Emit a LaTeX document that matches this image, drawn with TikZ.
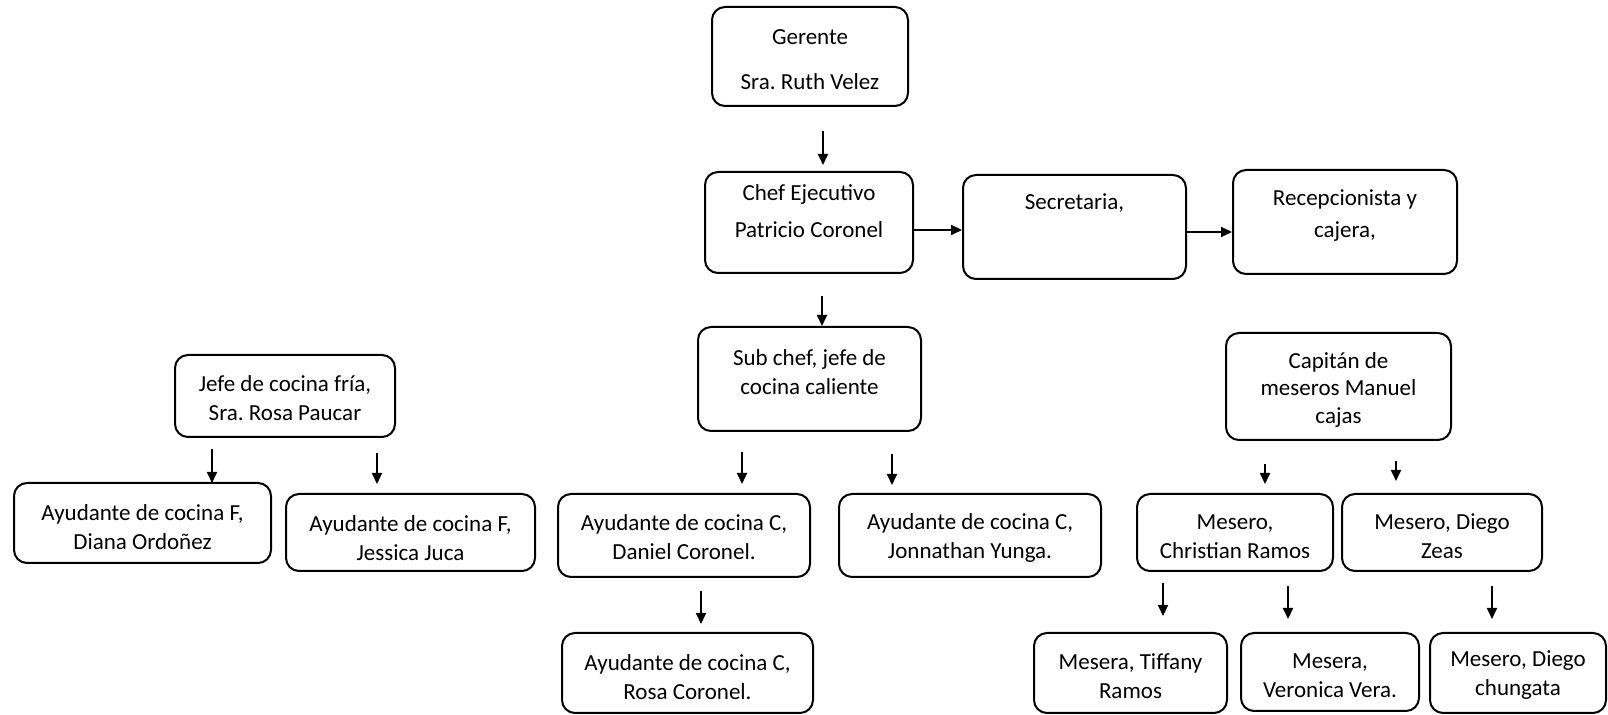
\documentclass[tikz,border=0pt]{standalone}
\usepackage{fontspec}
\setmainfont{Carlito}
\usetikzlibrary{arrows.meta}
\frenchspacing
\begin{document}
\begin{tikzpicture}[x=0.5pt,y=-0.5pt,
  box/.style={draw=black, line width=1pt, rounded corners=6.5pt, inner sep=0pt},
  txt/.style={align=center, font=\fontsize{11.5}{14.5}\selectfont, inner sep=0pt},
  arr/.style={line width=1pt, -{Triangle[length=5.5pt,width=5pt]}}]
\useasboundingbox (0,0) rectangle (1608,715);

% boxes
\node[box, minimum width=98pt,    minimum height=49.5pt] (ger)   at (810,56.5)    {};
\node[box, minimum width=104pt,   minimum height=50.5pt] (chef)  at (809,222.5)   {};
\node[box, minimum width=111.5pt, minimum height=52pt]   (sec)   at (1074.5,227)  {};
\node[box, minimum width=112pt,   minimum height=52pt]   (rec)   at (1345,222)    {};
\node[box, minimum width=110pt,   minimum height=41pt]   (jefe)  at (285,396)     {};
\node[box, minimum width=128.5pt, minimum height=40pt]   (diana) at (142.5,523)   {};
\node[box, minimum width=124.5pt, minimum height=38.5pt] (jess)  at (410.5,532.5) {};
\node[box, minimum width=111.5pt, minimum height=52pt]   (sub)   at (809.5,379)   {};
\node[box, minimum width=126pt,   minimum height=41.5pt] (dan)   at (684,535.5)   {};
\node[box, minimum width=131pt,   minimum height=41.5pt] (jon)   at (970,535.5)   {};
\node[box, minimum width=125.5pt, minimum height=40pt]   (rosa)  at (687.5,673)   {};
\node[box, minimum width=112.5pt, minimum height=53.5pt] (cap)   at (1338.5,386.5){};
\node[box, minimum width=98pt,    minimum height=38.5pt] (chr)   at (1235,532.5)  {};
\node[box, minimum width=100pt,   minimum height=38.5pt] (zeas)  at (1442,532.5)  {};
\node[box, minimum width=96.5pt,  minimum height=40pt]   (tif)   at (1130.5,673)  {};
\node[box, minimum width=89pt,    minimum height=39pt]   (ver)   at (1330,672)    {};
\node[box, minimum width=88pt,    minimum height=40pt]   (chu)   at (1518,673)    {};

% texts
\node[txt] (gerT)   at (810,59.5)    {Gerente\\[8pt]Sra. Ruth Velez};
\node[txt] (chefT)  at (809,211.5)   {Chef Ejecutivo\\[4pt]Patricio Coronel};
\node[txt] (secT)   at (1074.5,203)  {Secretaria,};
\node[txt] (recT)   at (1345,216)    {Recepcionista y\\[1.5pt]cajera,};
\node[txt] (jefeT)  at (285,398.5)   {Jefe de cocina fría,\\Sra. Rosa Paucar};
\node[txt] (dianaT) at (142.5,527.5) {Ayudante de cocina F,\\Diana Ordoñez};
\node[txt] (jessT)  at (410.5,538)   {Ayudante de cocina F,\\Jessica Juca};
\node[txt] (subT)   at (809.5,372.5) {Sub chef, jefe de\\cocina caliente};
\node[txt] (danT)   at (684,537.5)   {Ayudante de cocina C,\\Daniel Coronel.};
\node[txt] (jonT)   at (970,537.5)   {Ayudante de cocina C,\\Jonnathan Yunga.};
\node[txt] (rosaT)  at (687.5,677)   {Ayudante de cocina C,\\Rosa Coronel.};
\node[txt] (capT)   at (1338.5,389.5){Capitán de\\[-0.75pt]meseros Manuel\\[-0.75pt]cajas};
\node[txt] (chrT)   at (1235,536.5)  {Mesero,\\Christian Ramos};
\node[txt] (zeasT)  at (1442,536.5)  {Mesero, Diego\\Zeas};
\node[txt] (tifT)   at (1130.5,676)  {Mesera, Tiffany\\Ramos};
\node[txt] (verT)   at (1330,676)    {Mesera,\\Veronica Vera.};
\node[txt] (chuT)   at (1518,675.5)  {Mesero, Diego\\chungata};

% connectors
\draw[arr] ([shift={(13,24)}]ger.south) -- ++(0,34);
\draw[arr] ([shift={(0,7.5)}]chef.east) -- ([shift={(0,3)}]sec.west);
\draw[arr] ([shift={(0,5)}]sec.east) -- ([shift={(0,10)}]rec.west);
\draw[arr] ([shift={(13,22)}]chef.south) -- ([shift={(12.5,0)}]sub.north);
\draw[arr] ([shift={(-73,11)}]jefe.south) -- ++(0,34);
\draw[arr] ([shift={(92,15)}]jefe.south) -- ++(0,31);
\draw[arr] ([shift={(-67.5,20)}]sub.south) -- ++(0,32);
\draw[arr] ([shift={(82.5,22)}]sub.south) -- ++(0,31);
\draw[arr] ([shift={(17,13)}]dan.south) -- ++(0,33);
\draw[arr] ([shift={(-73.5,23)}]cap.south) -- ++(0,20);
\draw[arr] ([shift={(57.5,20)}]cap.south) -- ++(0,20);
\draw[arr] ([shift={(-72,11)}]chr.south) -- ++(0,33);
\draw[arr] ([shift={(53,14)}]chr.south) -- ++(0,33);
\draw[arr] ([shift={(50,14)}]zeas.south) -- ++(0,33);
\end{tikzpicture}
\end{document}
